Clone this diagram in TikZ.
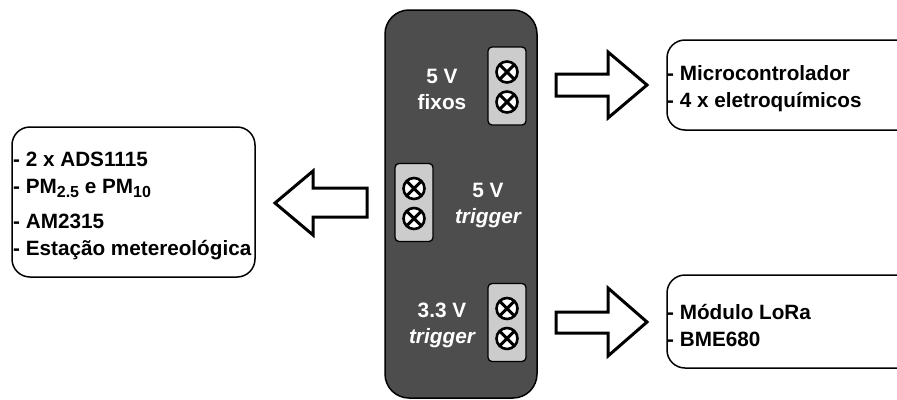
\documentclass[tikz,border=0pt]{standalone}
\usepackage{fontspec}
\setmainfont{Liberation Sans}
\begin{document}
\begin{tikzpicture}[x=1pt,y=-1pt,
  board/.style={draw=black, line width=1.5pt, fill=boardgray, rounded corners=24pt, minimum width=152pt, minimum height=388pt, inner sep=0pt},
  termblock/.style={draw=black, line width=1.3pt, fill=blockgray, rounded corners=4pt, minimum width=38pt, minimum height=78pt, inner sep=0pt},
  term/.style={circle, draw=black, line width=2.6pt, fill=white, minimum size=21pt, inner sep=0pt,
    path picture={\draw[line width=3pt] (path picture bounding box.north west) -- (path picture bounding box.south east)
      (path picture bounding box.north east) -- (path picture bounding box.south west);}},
  lbl/.style={font=\fontsize{20.8}{26}\selectfont\bfseries, text=white, inner sep=0pt, align=center},
  infobox/.style={draw=black, line width=1.5pt, fill=white, rounded corners=18pt, inner sep=0pt},
  infotext/.style={font=\fontsize{20.7}{27}\selectfont\bfseries, text=black, inner sep=0pt, align=left, anchor=west},
  blockarrow/.style={draw=black, line width=3pt, fill=white, line join=miter}
]
\definecolor{boardgray}{HTML}{4D4D4D}
\definecolor{blockgray}{HTML}{CCCCCC}
\useasboundingbox (0,0) rectangle (897,399);

% central board
\node[board] (brd) at (461,204) {};

% terminal blocks
\node[termblock] (tb1) at (507,86) {};
\node[term] (t1a) at (507,72) {};
\node[term] (t1b) at (507,102) {};

\node[termblock] (tb2) at (414,202.5) {};
\node[term] (t2a) at (414,188.5) {};
\node[term] (t2b) at (414,218.5) {};

\node[termblock] (tb3) at (507,322.5) {};
\node[term] (t3a) at (507,308.5) {};
\node[term] (t3b) at (507,338.5) {};

% labels on board
\node[lbl] (l1) at (442,89) {5 V\\fixos};
\node[lbl] (l2) at (488,205) {5 V\\\itshape trigger};
\node[lbl] (l3) at (442,325) {3.3 V\\\itshape trigger};

% info boxes
\node[infobox, minimum width=243pt, minimum height=150pt] (left) at (133.5,202) {};
\node[infotext] (lefttxt) at (13,206) {- 2 x ADS1115\\- PM\raisebox{-0.35ex}{\fontsize{16}{16}\selectfont 2.5} e PM\raisebox{-0.35ex}{\fontsize{16}{16}\selectfont 10}\\[8pt]- AM2315\\- Estação metereológica};

\node[infobox, minimum width=253pt, minimum height=90pt] (rtop) at (793.5,85) {};
\node[infotext] (rtoptxt) at (667,88.5) {- Microcontrolador\\- 4 x eletroquímicos};

\node[infobox, minimum width=253pt, minimum height=93pt] (rbot) at (793.5,321.5) {};
\node[infotext] (rbottxt) at (667,325.5) {- Módulo LoRa\\- BME680};

% block arrows
\draw[blockarrow] (367,188) -- (313,188) -- (313,171) -- (275,203) -- (313,235) -- (313,217) -- (367,217) -- cycle;
\draw[blockarrow] (556,74) -- (608,74) -- (608,52) -- (647,85) -- (608,118) -- (608,96) -- (556,96) -- cycle;
\draw[blockarrow] (556,312) -- (608,312) -- (608,288) -- (647,322) -- (608,356) -- (608,333) -- (556,333) -- cycle;
\end{tikzpicture}
\end{document}
